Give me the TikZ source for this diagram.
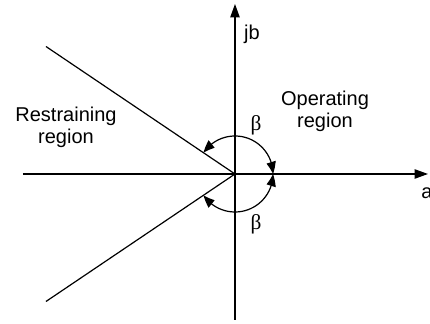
\documentclass[tikz,border=0pt]{standalone}
\usepackage{fontspec}
\setmainfont{Liberation Sans}
\newfontfamily\greekfont{Liberation Serif}
\usetikzlibrary{arrows.meta,bending,positioning,calc}

\begin{document}
\begin{tikzpicture}[>={Triangle[length=10pt,width=7pt]},x=0.75pt,y=0.75pt,line width=0.9pt,
  lbl/.style={font=\fontsize{15}{16.5}\selectfont,align=center,inner sep=0pt},
  grk/.style={font=\greekfont\fontsize{16}{18}\selectfont,inner sep=0pt}]
\useasboundingbox (-235,-150) rectangle (195,174);
\coordinate (O) at (0,0);
\coordinate (aleft) at (-212,0);
\coordinate (aright) at (193,0);
\coordinate (jbot) at (0,-146);
\coordinate (jtop) at (0,170);
\coordinate (lup) at (146:228);
\coordinate (ldown) at (214:228);
% axes
\draw[->] (aleft) -- (aright);
\draw[->] (jbot) -- (jtop);
% boundary lines
\draw (lup) -- (O) -- (ldown);
% angle arcs
\draw[{Triangle[length=9pt,width=7pt,bend]}-{Triangle[length=9pt,width=7pt,bend]}]
  (146:38) arc[start angle=146,end angle=0,radius=38];
\draw[{Triangle[length=9pt,width=7pt,bend]}-{Triangle[length=9pt,width=7pt,bend]}]
  (214:38) arc[start angle=214,end angle=360,radius=38];
% labels
\node[grk] (bup) at (21,49) {β};
\node[grk] (bdown) at (21,-50) {β};
\node[lbl] (jb) at (17,140) {jb};
\node[lbl] (a) at (192,-19) {a};
\node[lbl] (oper) at (90,63) {Operating\\region};
\node[lbl] (restr) at (-169,47) {Restraining\\region};
\end{tikzpicture}
\end{document}
